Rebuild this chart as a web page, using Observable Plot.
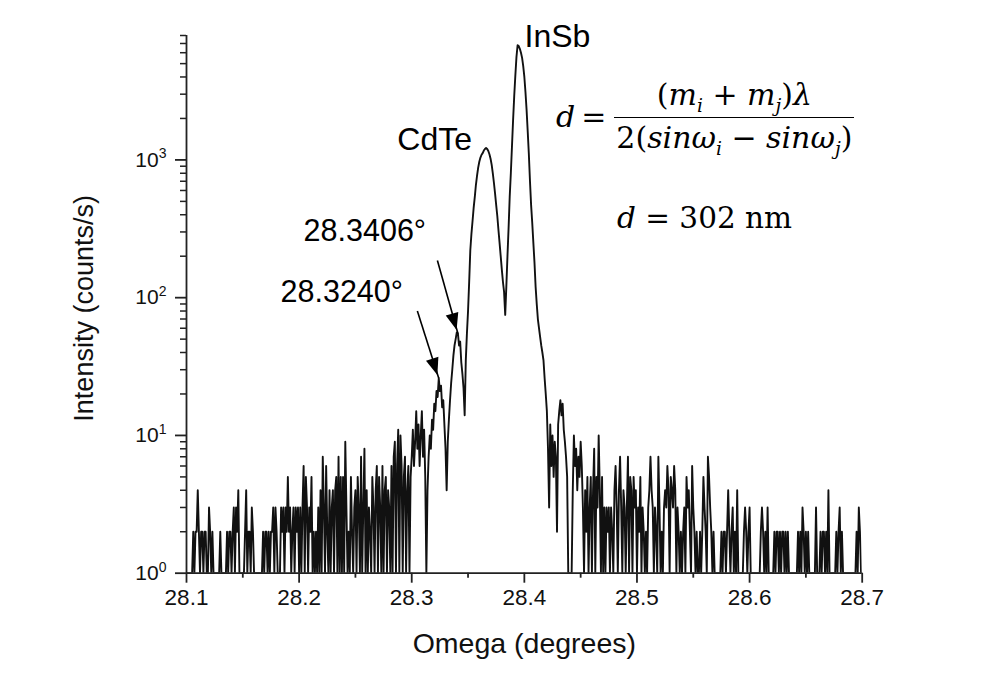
<!DOCTYPE html>
<html>
<head>
<meta charset="utf-8">
<script src="https://cdn.jsdelivr.net/npm/d3@7"></script>
<script src="https://cdn.jsdelivr.net/npm/@observablehq/plot@0.6"></script>
<style>
  body { margin: 0; background: #fff; }
  #wrap { position: relative; width: 986px; height: 691px; font-family: "Liberation Sans", Arial, sans-serif; }
  .eq { position: absolute; font-family: "DejaVu Serif", serif; color: #000; white-space: nowrap; }
  .eq sub { font-size: 0.62em; vertical-align: -0.35em; line-height: 0; }
  #eq1 { left: 556px; top: 78px; font-size: 30px; display: flex; align-items: center; }
  #eq1 .frac { display: inline-flex; flex-direction: column; align-items: center; margin-left: 8px; }
  #eq1 .num { padding: 0 4px 4px 4px; line-height: 1.15; }
  #eq1 .den { border-top: 1.6px solid #000; padding: 3px 2px 0 2px; line-height: 1.15; }
  #eq2 { left: 617px; top: 201px; font-size: 29.5px; }
</style>
</head>
<body>
<div id="wrap">
  <div id="eq1" class="eq"><span><i>d</i>&#8201;=</span><span class="frac"><span class="num">(<i>m</i><sub><i>i</i></sub> + <i>m</i><sub><i>j</i></sub>)<i>λ</i></span><span class="den">2(<i>sinω</i><sub><i>i</i></sub> − <i>sinω</i><sub><i>j</i></sub>)</span></span></div>
  <div id="eq2" class="eq"><i>d</i> = 302 nm</div>
</div>
<script>
// ---- scan settings (omega, degrees) ----
const scanStep = 0.001;

// background / fringes, 28.100 - 28.299
const leftStart = 28.100;
const countsLeft = [
  0,0,0,0,0,0,2,0,2,2,
  4,2,0,2,2,0,2,2,0,0,
  3,2,0,2,0,0,0,0,0,0,
  2,0,0,0,0,0,2,0,2,2,
  0,2,3,0,3,2,4,0,0,0,
  0,0,2,4,0,2,2,0,3,2,
  0,0,0,0,0,0,0,0,2,0,
  2,2,0,2,0,2,2,3,0,3,
  2,0,0,0,3,2,3,0,3,2,
  5,2,3,0,2,3,0,3,2,3,
  0,3,0,3,6,0,5,3,0,3,
  2,5,0,2,0,2,0,3,0,4,
  0,7,3,0,6,2,0,4,0,3,
  4,0,4,5,0,7,0,5,0,5,
  0,9,3,0,2,0,5,2,0,3,
  4,0,5,3,0,7,0,3,8,0,
  4,0,3,2,0,5,3,0,4,6,
  0,5,3,0,6,0,4,5,0,4,
  3,0,6,0,7,9,0,6,11,0,
  10,6,0,5,7,0,4,6,0,5
];

// fringes and the CdTe / InSb peaks, 28.300 - 28.419
const peakStart = 28.300;
const countsPeak = [
  7,11,6,9,15,8,12,6,10,15,
  7,11,5,0,4,7,10,8,13,11,
  17,15,21,19,26,21,23,16,18,12,
  8,4,9,13,18,24,30,38,45,50,
  56,55,45,48,34,28,22,14,35,55,
  80,130,220,290,360,450,540,660,770,880,
  970,1040,1090,1120,1170,1200,1220,1200,1160,1100,
  1020,920,800,680,570,470,390,310,250,200,
  160,130,110,75,120,200,320,540,800,1250,
  1950,2900,4100,5600,6800,6700,6400,6000,5500,4800,
  4000,3100,2300,1600,1100,700,470,350,250,180,
  120,90,70,60,52,45,40,35,26,20
];

// tail and background, 28.420 - 28.700
const rightStart = 28.420;
const countsRight = [
  15,8,3,12,6,10,5,9,7,2,
  12,15,18,14,17,11,9,7,5,0,
  0,0,0,4,10,6,8,4,7,5,
  9,6,3,0,4,2,5,0,3,5,
  0,4,8,0,5,3,10,4,0,5,
  0,3,0,3,2,3,0,3,2,0,
  4,6,3,0,4,7,3,0,4,3,
  0,3,7,0,5,4,0,5,3,4,
  0,3,2,5,0,3,2,0,2,0,
  3,4,7,4,3,0,3,2,0,7,
  3,0,2,0,3,4,3,6,4,0,
  5,4,3,6,4,0,3,2,0,2,
  0,2,3,0,5,3,4,2,0,6,
  3,2,0,2,0,0,2,0,2,5,
  3,2,0,7,5,3,2,0,2,0,
  0,0,0,0,0,2,0,2,2,0,
  2,4,2,0,2,3,0,2,0,4,
  0,0,0,0,0,2,3,2,0,2,
  3,0,0,0,0,0,0,0,0,0,
  2,3,2,0,2,0,3,0,0,0,
  0,0,2,0,2,2,0,2,0,2,
  2,0,2,0,2,0,0,0,0,0,
  0,0,0,2,0,2,0,3,2,0,
  2,0,2,0,0,0,0,0,0,3,
  0,0,0,2,0,2,2,0,2,0,
  4,0,0,0,0,0,0,2,0,2,
  3,0,2,0,0,0,0,0,0,0,
  0,0,0,0,0,2,0,3,2,0,
  0
];

// axes
const xDomain = [28.1, 28.7];
const yDomain = [1, 8000];
const xMajorTicks = [28.1, 28.2, 28.3, 28.4, 28.5, 28.6, 28.7];
const xMinorTicks = [28.15, 28.25, 28.35, 28.45, 28.55, 28.65];
const yMajorTicks = [1, 10, 100, 1000];
const yMinorTicks = [2,3,4,5,6,7,8,9, 20,30,40,50,60,70,80,90, 200,300,400,500,600,700,800,900, 2000,3000,4000,5000,6000,7000,8000];
const xTitle = "Omega (degrees)";
const yTitle = "Intensity (counts/s)";

// annotations
const peakNames = ["CdTe", "InSb"];
const peakOmegas = [28.366, 28.394];
const fringeLabels = ["28.3240°", "28.3406°"];
const fringeOmegas = [28.324, 28.341];
const fringeTextOmegas = [28.1835, 28.204];
const fringeTextCounts = [109, 302];
const arrowFromOmegas = [28.305, 28.3228];
const arrowFromCounts = [80, 186];

// ---- build table ----
const toRows = (start, counts) => counts.map((c, i) => ({omega: +(start + i * scanStep).toFixed(3), count: c}));
const scan = [...toRows(leftStart, countsLeft), ...toRows(peakStart, countsPeak), ...toRows(rightStart, countsRight)];
const countAt = (w) => scan.find(d => Math.abs(d.omega - w) < 1e-6).count;

const peaks = peakNames.map((n, i) => ({name: n, omega: peakOmegas[i], count: countAt(peakOmegas[i])}));
const fringes = fringeLabels.map((l, i) => ({
  label: l, tx: fringeTextOmegas[i], ty: fringeTextCounts[i],
  x1: arrowFromOmegas[i], y1: arrowFromCounts[i],
  x2: fringeOmegas[i], y2: countAt(fringeOmegas[i])
}));

const sup = {"0":"⁰","1":"¹","2":"²","3":"³"};
const axisColor = "#222";

const chart = Plot.plot({
  width: 986,
  height: 691,
  marginLeft: 186,
  marginRight: 124.3,
  marginTop: 35,
  marginBottom: 118.3,
  style: {fontFamily: "'Liberation Sans', Arial, sans-serif", fontSize: "22px", color: "#111", background: "transparent"},
  x: {domain: xDomain},
  y: {type: "log", domain: yDomain},
  marks: [
    Plot.line(scan, {x: "omega", y: d => Math.max(d.count, 1), stroke: "#111", strokeWidth: 1.9, clip: true}),
    Plot.ruleX([xDomain[0]], {stroke: axisColor, strokeWidth: 1.8}),
    Plot.ruleY([yDomain[0]], {stroke: axisColor, strokeWidth: 1.8}),
    Plot.axisX({ticks: xMajorTicks, tickSize: 10, tickPadding: 6, tickFormat: d => d.toFixed(1), fontSize: 22.5, strokeWidth: 1.8, stroke: axisColor, label: null}),
    Plot.axisX({ticks: xMinorTicks, tickSize: 5, tickFormat: () => "", strokeWidth: 1.8, stroke: axisColor, label: null}),
    Plot.axisY({ticks: yMajorTicks, tickSize: 11, tickPadding: 9, tickFormat: d => "10" + sup[String(Math.round(Math.log10(d)))], fontSize: 21, strokeWidth: 1.8, stroke: axisColor, label: null}),
    Plot.axisY({ticks: yMinorTicks, tickSize: 6, tickFormat: () => "", strokeWidth: 1.5, stroke: axisColor, label: null}),
    Plot.text([xTitle], {frameAnchor: "bottom", dy: 80, fontSize: 28.5, fill: "#111"}),
    Plot.text([yTitle], {frameAnchor: "left", textAnchor: "middle", dx: -102, dy: 4, rotate: -90, fontSize: 27, fill: "#111"}),
    Plot.text(peaks.filter(d => d.name === "InSb"), {x: "omega", y: "count", text: "name", textAnchor: "start", dx: 7, dy: -8, fontSize: 32, fill: "#000"}),
    Plot.text(peaks.filter(d => d.name === "CdTe"), {x: "omega", y: "count", text: "name", textAnchor: "end", dx: -14, dy: -8, fontSize: 32, fill: "#000"}),
    Plot.text(fringes, {x: "tx", y: "ty", text: "label", textAnchor: "start", fontSize: 30.5, fill: "#000"}),
    Plot.link(fringes, {x1: "x1", y1: "y1", x2: "x2", y2: "y2", stroke: "#000", strokeWidth: 1.6})
  ]
});

document.getElementById("wrap").prepend(chart);

// solid arrow heads at the end of each annotation link, placed through the plot's scales
const sx = chart.scale("x"), sy = chart.scale("y");
const headLen = 17, headHalf = 6.5, inset = 3;
const heads = fringes.map(f => {
  const x1 = sx.apply(f.x1), y1 = sy.apply(f.y1), x2 = sx.apply(f.x2), y2 = sy.apply(f.y2);
  const L = Math.hypot(x2 - x1, y2 - y1), ux = (x2 - x1) / L, uy = (y2 - y1) / L;
  const tx = x2 - ux * inset, ty = y2 - uy * inset;
  const bx = tx - ux * headLen, by = ty - uy * headLen;
  return [[tx, ty], [bx - uy * headHalf, by + ux * headHalf], [bx + uy * headHalf, by - ux * headHalf]];
});
d3.select(chart).append("g").attr("aria-label", "arrow heads")
  .selectAll("path").data(heads).join("path")
  .attr("d", p => "M" + p.map(q => q.join(",")).join("L") + "Z")
  .attr("fill", "#000");

// superscript exponents on the y tick labels
d3.select(chart).selectAll('g[aria-label="y-axis tick label"] text').each(function() {
  const s = this.textContent;
  if (!s || s.length < 3) return;
  const exp = Object.keys(sup).find(k => sup[k] === s.slice(2));
  const t = d3.select(this);
  t.text(null);
  t.append("tspan").text("10");
  t.append("tspan").attr("dy", "-0.6em").attr("font-size", "14px").text(exp);
});
</script>
</body>
</html>
